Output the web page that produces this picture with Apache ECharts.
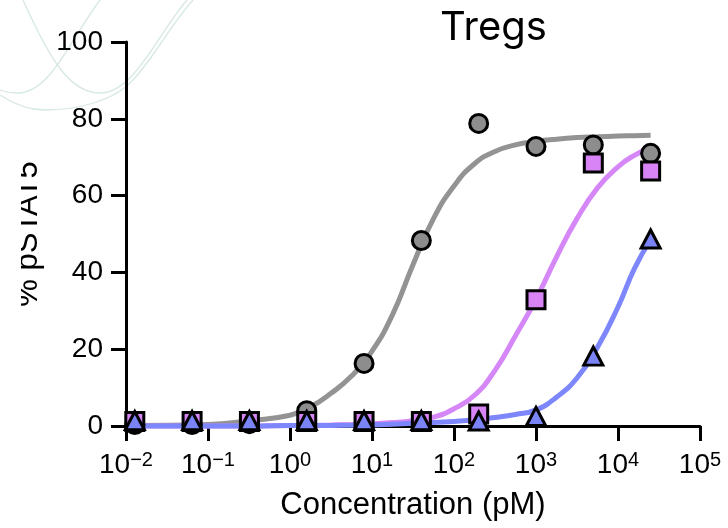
<!DOCTYPE html>
<html><head><meta charset="utf-8">
<script src="https://cdn.jsdelivr.net/npm/echarts@6/dist/echarts.min.js"></script>
<style>html,body{margin:0;padding:0;background:#fff}#c{width:728px;height:528px}</style>
</head><body><div id="c"></div>
<script>
// measured points (concentration in pM, 5-fold dilutions)
const concentrations = [0.0128, 0.064, 0.32, 1.6, 8, 40, 200, 1000, 5000, 25000];
const grayPoints    = [0.4, 0.4, 0.6, 4.0, 16.3, 48.3, 78.8, 72.8, 73.2, 71.0];
const magentaPoints = [1.2, 1.2, 1.2, 1.2, 1.2, 1.2, 3.1, 32.9, 68.5, 66.4];
const bluePoints    = [1.4, 1.4, 1.4, 1.4, 1.4, 1.4, 1.3, 2.5, 18.2, 48.7];
// fitted curves
const curveX       = [0.0128, 0.1, 0.316, 1, 1.78, 3.16, 5.62, 10, 17.8, 31.6, 56.2, 100, 178, 316, 562, 1000, 1778, 3162, 5623, 10000, 15850, 25000];
const grayCurve    = [0.1, 0.4, 1.4, 2.8, 5, 8.5, 13, 19.5, 29, 42, 54, 62.5, 68.3, 71.5, 73.2, 74.1, 74.7, 75.1, 75.3, 75.5, 75.6, 75.7];
const magentaCurve = [0, 0, 0, 0.1, 0.15, 0.25, 0.4, 0.6, 0.9, 1.4, 2.3, 4.5, 8, 14.5, 23.5, 33, 44, 54, 62, 67.5, 70.5, 72.5];
const blueCurve    = [0, 0, 0, 0.1, 0.12, 0.15, 0.2, 0.3, 0.45, 0.7, 0.9, 1.2, 1.6, 2.2, 3, 4.2, 7.5, 12.5, 20.5, 31, 41, 48.5];
const xTickExponents = ['\u22122', '\u22121', '0', '1', '2', '3', '4', '5'];
const yTickValues = [0, 20, 40, 60, 80, 100];

const pairs = (xs, ys) => xs.map((x, i) => [x, ys[i]]);
const FONT = "'Liberation Sans', Arial, sans-serif";

const chart = echarts.init(document.getElementById('c'), null, {renderer: 'canvas'});
const lineSeries = (data, color, z) => ({
  type: 'line', data, showSymbol: false, smooth: 0.5, clip: false,
  lineStyle: {color, width: 5}, z, silent: true, animation: false
});
const pointSeries = (data, symbol, size, color, z) => ({
  type: 'scatter', data, symbol, symbolSize: size, clip: false, z,
  itemStyle: {color, borderColor: '#000', borderWidth: 3, borderJoin: 'miter', opacity: 1},
  animation: false
});
const deco = (x1, y1, cpx1, cpy1, cpx2, cpy2, x2, y2) => ({
  type: 'bezierCurve', z: -10, silent: true,
  shape: {x1, y1, cpx1, cpy1, cpx2, cpy2, x2, y2},
  style: {stroke: '#d6e8e3', lineWidth: 1.3, fill: null}
});

chart.setOption({
  animation: false,
  backgroundColor: '#fff',
  title: {
    text: 'Tregs', left: 435, top: 3,
    textStyle: {fontFamily: 'Inter, Lato, sans-serif', fontSize: 40, fontWeight: 'normal', color: '#000'}
  },
  grid: {left: 126, right: 28, top: 42, bottom: 102, containLabel: false},
  xAxis: {
    type: 'log', logBase: 10, min: 0.01, max: 100000, interval: 1,
    name: 'Concentration (pM)', nameLocation: 'middle', nameGap: 64,
    nameTextStyle: {fontFamily: FONT, fontSize: 31, color: '#000'},
    axisLine: {show: true, lineStyle: {color: '#000', width: 3}},
    axisTick: {show: true, length: 15, lineStyle: {color: '#000', width: 3}},
    minorTick: {show: false},
    splitLine: {show: false},
    axisLabel: {
      margin: 24, color: '#000', fontFamily: FONT,
      formatter: (v, i) => '{b|10}{s|' + xTickExponents[i] + '}',
      rich: {
        b: {fontFamily: FONT, fontSize: 28, lineHeight: 30, color: '#000'},
        s: {fontFamily: FONT, fontSize: 20, lineHeight: 30, verticalAlign: 'top', color: '#000'}
      }
    }
  },
  yAxis: {
    type: 'value', min: yTickValues[0], max: yTickValues[yTickValues.length - 1], interval: 20,
    name: '% pSTAT5', nameLocation: 'middle', nameGap: 82,
    nameTextStyle: {fontFamily: FONT, fontSize: 31, color: '#000'},
    axisLine: {show: true, lineStyle: {color: '#000', width: 3}},
    axisTick: {show: true, length: 15, lineStyle: {color: '#000', width: 3}},
    splitLine: {show: false},
    axisLabel: {margin: 23, color: '#000', fontFamily: FONT, fontSize: 28}
  },
  graphic: [
    deco(23, 0, 50, 60, 70, 93, 100, 93),
    deco(100, 93, 135, 93, 160, 30, 187, 0),
    deco(100, 0, 70, 40, 50, 93, 18, 93),
    deco(18, 93, 8, 93, 3, 91, 0, 90),
    deco(0, 95, 15, 105, 30, 110, 45, 110),
    deco(45, 110, 80, 110, 110, 100, 127, 86),
    deco(127, 86, 150, 65, 170, 25, 193, 0),
    {type: 'rect', z: 100, silent: true, shape: {x: 0, y: 150, width: 21, height: 175}, style: {fill: '#fff'}}
  ],
  series: [
    lineSeries(pairs(curveX, grayCurve), '#939393', 2),
    lineSeries(pairs(curveX, magentaCurve), '#d687f7', 3),
    lineSeries(pairs(curveX, blueCurve), '#7d87fb', 4),
    pointSeries(pairs(concentrations, grayPoints), 'circle', 18, '#8d8d8d', 5),
    pointSeries(pairs(concentrations, magentaPoints), 'rect', 18, '#d884f7', 6),
    pointSeries(pairs(concentrations, bluePoints), 'triangle', [19, 18], '#7b84f6', 7)
  ]
});
</script></body></html>
